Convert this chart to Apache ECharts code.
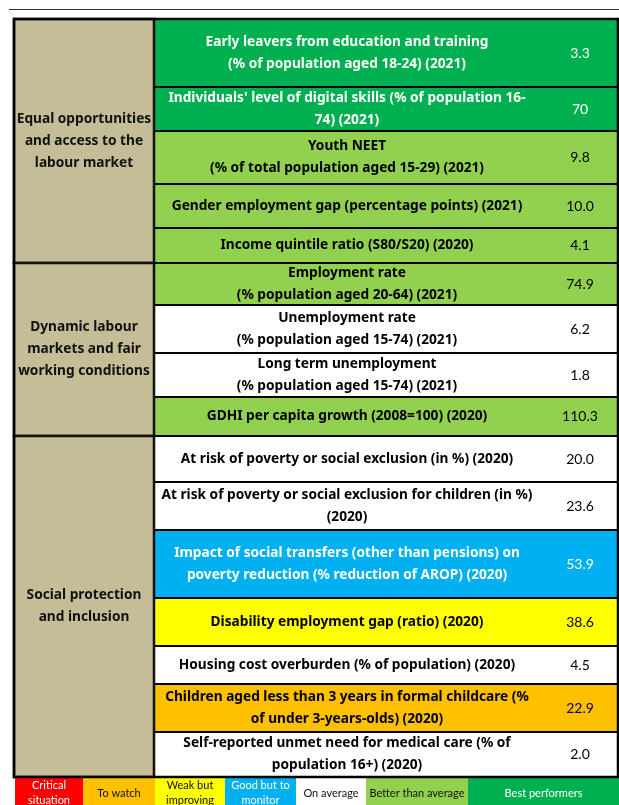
<!DOCTYPE html>
<html>
<head>
<meta charset="utf-8">
<script src="https://cdn.jsdelivr.net/npm/echarts@6/dist/echarts.min.js"></script>
<style>
  html, body { margin: 0; padding: 0; background: #fff; }
  #chartDom { width: 619px; height: 805px; }
</style>
</head>
<body>
<div id="chartDom"></div>
<script>
// ---- data ----
const groups = [
  'Equal opportunities\nand access to the\nlabour market',
  'Dynamic labour\nmarkets and fair\nworking conditions',
  'Social protection\nand inclusion'
];
const groupOf = [0, 0, 0, 0, 0, 1, 1, 1, 1, 2, 2, 2, 2, 2, 2, 2];
const indicators = [
  'Early leavers from education and training\n(% of population aged 18-24) (2021)',
  "Individuals' level of digital skills (% of population 16-\n74) (2021)",
  'Youth NEET\n(% of total population aged 15-29) (2021)',
  'Gender employment gap (percentage points) (2021)',
  'Income quintile ratio (S80/S20) (2020)',
  'Employment rate\n(% population aged 20-64) (2021)',
  'Unemployment rate\n(% population aged 15-74) (2021)',
  'Long term unemployment\n(% population aged 15-74) (2021)',
  'GDHI per capita growth (2008=100) (2020)',
  'At risk of poverty or social exclusion (in %) (2020)',
  'At risk of poverty or social exclusion for children (in %)\n(2020)',
  'Impact of social transfers (other than pensions) on\npoverty reduction (% reduction of AROP) (2020)',
  'Disability employment gap (ratio) (2020)',
  'Housing cost overburden (% of population) (2020)',
  'Children aged less than 3 years in formal childcare (%\nof under 3-years-olds) (2020)',
  'Self-reported unmet need for medical care (% of\npopulation 16+) (2020)'
];
const values = ['3.3', '70', '9.8', '10.0', '4.1', '74.9', '6.2', '1.8', '110.3',
  '20.0', '23.6', '53.9', '38.6', '4.5', '22.9', '2.0'];
const status = ['best', 'best', 'better', 'better', 'better', 'better', 'average', 'average', 'better',
  'average', 'average', 'good', 'weak', 'average', 'watch', 'average'];
const legendKeys = ['critical', 'watch', 'weak', 'good', 'average', 'better', 'best'];
const legendLabels = ['Critical\nsituation', 'To watch', 'Weak but\nimproving', 'Good but to\nmonitor',
  'On average', 'Better than average', 'Best performers'];

// ---- layout / style ----
const W = 619, H = 805;
const TOP = 19, LEFT = 14, CAT_RIGHT = 154, RIGHT = 618;
const TEXT_X = 347, VALUE_X = 580;
const rowHeights = [68, 44, 53, 44, 35, 42, 48, 44, 39, 46, 48, 68, 48, 38, 48, 45];
const legendEdges = [15, 83, 155, 225, 296, 366, 468, 619];
const fills = {
  critical: '#FF0000', watch: '#FFC000', weak: '#FFFF00', good: '#00B0F0',
  average: '#FFFFFF', better: '#92D050', best: '#00B050'
};
const whiteText = { critical: true, good: true, best: true };
const CAT_FILL = '#C4BD97';
const BOLD_FONT = '"Noto Sans", "Open Sans", sans-serif';
const FONT = 'Lato, "Open Sans", sans-serif';

function rowTop(i) {
  let y = TOP;
  for (let k = 0; k < i; k++) y += rowHeights[k];
  return y;
}
const tableBottom = rowTop(rowHeights.length);

function rectFrom(api, x0, y0, x1, y1) {
  const a = api.coord([x0, y0]);
  const b = api.coord([x1, y1]);
  return { x: a[0], y: Math.min(a[1], b[1]), width: b[0] - a[0], height: Math.abs(b[1] - a[1]) };
}

const chart = echarts.init(document.getElementById('chartDom'));

const option = {
  animation: false,
  grid: { left: 0, right: 0, top: 0, bottom: 0 },
  xAxis: { type: 'value', min: 0, max: W, show: false },
  yAxis: { type: 'value', min: 0, max: H, inverse: true, show: false },
  series: [
    {
      // indicator rows
      type: 'custom',
      data: indicators.map((t, i) => [i, values[i]]),
      renderItem(params, api) {
        const i = api.value(0);
        const y0 = rowTop(i), y1 = y0 + rowHeights[i];
        const r = rectFrom(api, CAT_RIGHT, y0, RIGHT, y1);
        const tc = whiteText[status[i]] ? '#fff' : '#000';
        const mid = r.y + r.height / 2;
        return {
          type: 'group',
          children: [
            { type: 'rect', shape: r, style: { fill: fills[status[i]], stroke: '#000', lineWidth: 2 } },
            {
              type: 'text',
              style: {
                text: indicators[i], x: api.coord([TEXT_X, 0])[0], y: mid,
                align: 'center', verticalAlign: 'middle',
                font: 'bold 13.7px ' + BOLD_FONT, lineHeight: 22, fill: tc
              }
            },
            {
              type: 'text',
              style: {
                text: values[i], x: api.coord([VALUE_X, 0])[0], y: mid,
                align: 'center', verticalAlign: 'middle',
                font: '14px ' + FONT, fill: tc
              }
            }
          ]
        };
      }
    },
    {
      // group cells
      type: 'custom',
      data: groups.map((g, i) => [i]),
      renderItem(params, api) {
        const g = api.value(0);
        const first = groupOf.indexOf(g), last = groupOf.lastIndexOf(g);
        const y0 = rowTop(first), y1 = rowTop(last) + rowHeights[last];
        const r = rectFrom(api, LEFT, y0, CAT_RIGHT, y1);
        return {
          type: 'group',
          children: [
            { type: 'rect', shape: r, style: { fill: CAT_FILL, stroke: '#111', lineWidth: 2.5 } },
            {
              type: 'text',
              style: {
                text: groups[g], x: r.x + r.width / 2, y: r.y + r.height / 2,
                align: 'center', verticalAlign: 'middle',
                font: 'bold 13.7px ' + BOLD_FONT, lineHeight: 22, fill: '#111'
              }
            }
          ]
        };
      }
    },
    {
      // legend strip
      type: 'custom',
      data: legendKeys.map((k, i) => [i]),
      renderItem(params, api) {
        const i = api.value(0);
        const k = legendKeys[i];
        const r = rectFrom(api, legendEdges[i], tableBottom + 1, legendEdges[i + 1], H + 2);
        return {
          type: 'group',
          children: [
            { type: 'rect', shape: r, style: { fill: fills[k] } },
            {
              type: 'text',
              style: {
                text: legendLabels[i], x: r.x + r.width / 2, y: tableBottom + 16,
                align: 'center', verticalAlign: 'middle',
                font: '11px ' + FONT, lineHeight: 15, fill: whiteText[k] ? '#fff' : '#111'
              }
            }
          ]
        };
      }
    },
    {
      // table outline + top rule
      type: 'custom',
      data: [[0]],
      renderItem(params, api) {
        const a = api.coord([9, 9.5]), b = api.coord([W, 9.5]);
        const r = rectFrom(api, LEFT, TOP, RIGHT, tableBottom);
        return {
          type: 'group',
          children: [
            { type: 'line', shape: { x1: a[0], y1: a[1], x2: b[0], y2: b[1] }, style: { stroke: '#333', lineWidth: 1 } },
            { type: 'rect', shape: r, style: { fill: 'none', stroke: '#000', lineWidth: 2.5 } }
          ]
        };
      }
    }
  ]
};

chart.setOption(option);
</script>
</body>
</html>
